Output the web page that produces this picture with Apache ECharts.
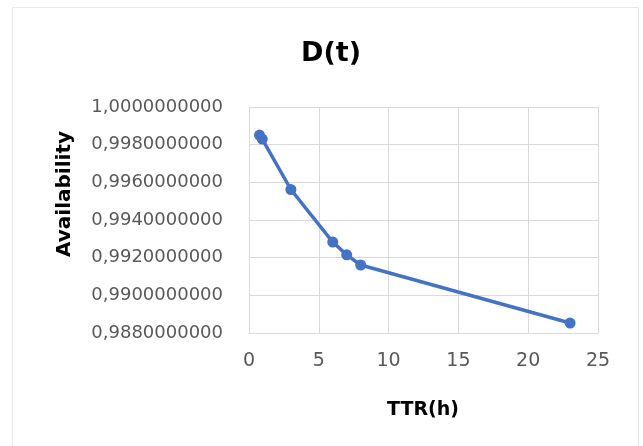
<!DOCTYPE html>
<html>
<head>
<meta charset="utf-8">
<script src="https://cdn.jsdelivr.net/npm/echarts@6/dist/echarts.min.js"></script>
<style>
    html, body {
        margin: 0;
        padding: 0;
        background: #fff;
        overflow: hidden;
    }
    .chart-frame {
        position: absolute;
        left: 12px;
        top: 7px;
        width: 627px;
        height: 460px;
        border: 1px solid #e8e8e8;
        box-sizing: border-box;
    }
    #dt-chart {
        position: absolute;
        left: 0;
        top: 0;
        width: 643px;
        height: 446px;
    }
</style>
</head>
<body>
<div class="chart-frame"></div>
<div id="dt-chart"></div>
<script>
    // TTR (h) and availability
    let ttrHours = [0.75, 0.95, 3, 6, 7, 8, 23];
    let availability = [0.99851, 0.99830, 0.99562, 0.99283, 0.99215, 0.99161, 0.98853];
    let xTicks = [0, 5, 10, 15, 20, 25];
    let yTicks = [0.988, 0.990, 0.992, 0.994, 0.996, 0.998, 1.000];

    let points = [];
    for (let i = 0; i < ttrHours.length; i++) {
        points.push([ttrHours[i], availability[i]]);
    }

    let chart = echarts.init(document.getElementById('dt-chart'));
    let labelFont = 'DejaVu Sans';
    let option = {
        animation: false,
        title: {
            text: 'D(t)',
            left: 326,
            top: 35,
            textAlign: 'center',
            textStyle: {
                fontFamily: labelFont,
                fontWeight: 'bold',
                fontSize: 27,
                color: '#000'
            }
        },
        grid: {
            left: 249,
            right: 45,
            top: 107,
            bottom: 113
        },
        xAxis: {
            type: 'value',
            min: xTicks[0],
            max: xTicks[xTicks.length - 1],
            interval: 5,
            axisLine: {show: true, lineStyle: {color: '#d9d9d9', width: 1}},
            axisTick: {show: false},
            splitLine: {show: true, lineStyle: {color: '#d9d9d9', width: 1}},
            axisLabel: {
                margin: 19,
                color: '#595959',
                fontFamily: labelFont,
                fontSize: 19
            }
        },
        yAxis: {
            type: 'value',
            min: yTicks[0],
            max: yTicks[yTicks.length - 1],
            interval: 0.002,
            axisLine: {show: false},
            axisTick: {show: false},
            splitLine: {show: true, lineStyle: {color: '#d9d9d9', width: 1}},
            axisLabel: {
                margin: 26,
                color: '#595959',
                fontFamily: labelFont,
                fontSize: 18
            ,
                formatter: function (v) {
                    return v.toFixed(10).replace('.', ',');
                }
            }
        },
        graphic: [
            { // y axis name
                type: 'text',
                x: 65,
                y: 194,
                rotation: Math.PI / 2,
                style: {
                    text: 'Availability',
                    fontFamily: labelFont,
                    fontWeight: 'bold',
                    fontSize: 20,
                    fill: '#000',
                    textAlign: 'center',
                    textVerticalAlign: 'middle'
                }
            },
            { // x axis name
                type: 'text',
                x: 423,
                y: 410,
                style: {
                    text: 'TTR(h)',
                    fontFamily: labelFont,
                    fontWeight: 'bold',
                    fontSize: 19,
                    fill: '#000',
                    textAlign: 'center',
                    textVerticalAlign: 'middle'
                }
            }
        ],
        series: [
            {
                type: 'line',
                data: points,
                symbol: 'circle',
                symbolSize: 11,
                lineStyle: {color: '#4472C4', width: 3.5},
                itemStyle: {color: '#4472C4'}
            }
        ]
    };
    chart.setOption(option);
</script>
</body>
</html>
